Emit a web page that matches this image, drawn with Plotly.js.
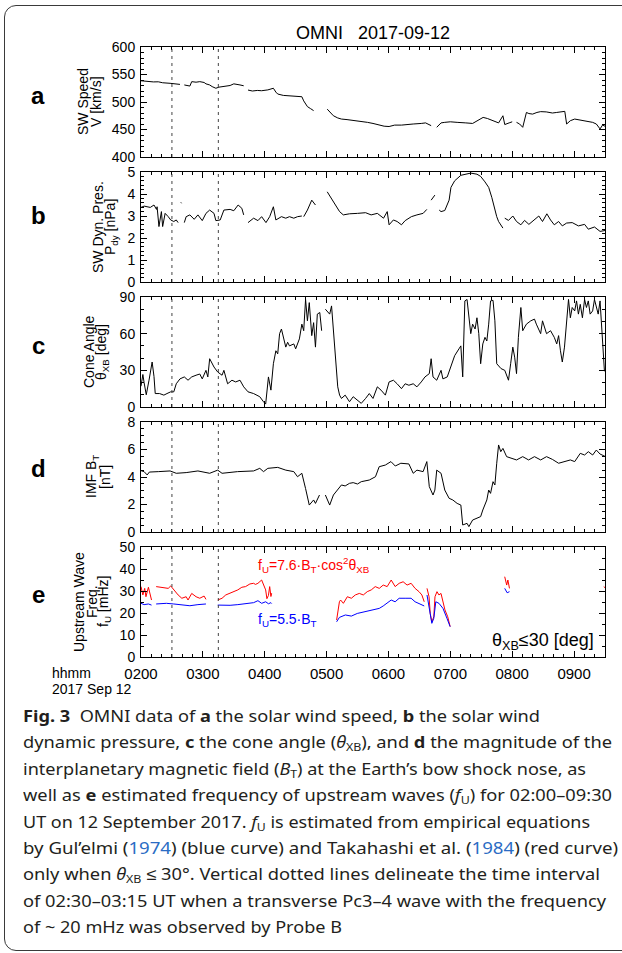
<!DOCTYPE html>
<html><head><meta charset="utf-8">
<script src="https://cdn.plot.ly/plotly-3.0.1.min.js"></script>
<style>
html,body{margin:0;padding:0;background:#fff;}
#wrap{position:relative;width:622px;height:953px;overflow:hidden;background:#fff;}
#frame{position:absolute;left:4px;top:5px;width:660px;height:946px;border:1.5px solid #3a3a3a;border-radius:12px;box-sizing:border-box;}
#chart{position:absolute;left:0;top:0;width:622px;height:700px;}
#caption{position:absolute;left:23px;top:703px;font-family:'Noto Sans',sans-serif;font-size:16.5px;line-height:26.4px;color:#231f20;}
#caption .ln{white-space:nowrap;transform-origin:0 50%;display:block;width:max-content;}
#caption sub{font-size:0.68em;vertical-align:-0.3em;line-height:0;}
#caption .ref{color:#2b6cc4;}
</style></head>
<body>
<div id="wrap">
<div id="frame"></div>
<div id="chart"></div>
<div id="caption">
<div class="ln"><b>Fig. 3</b>&nbsp; OMNI data of <b>a</b> the solar wind speed, <b>b</b> the solar wind</div>
<div class="ln">dynamic pressure, <b>c</b> the cone angle (<i>θ</i><sub>XB</sub>), and <b>d</b> the magnitude of the</div>
<div class="ln">interplanetary magnetic field (<i>B</i><sub>T</sub>) at the Earth’s bow shock nose, as</div>
<div class="ln">well as <b>e</b> estimated frequency of upstream waves (<i>f</i><sub>U</sub>) for 02:00–09:30</div>
<div class="ln">UT on 12 September 2017. <i>f</i><sub>U</sub> is estimated from empirical equations</div>
<div class="ln">by Gul’elmi (<span class="ref">1974</span>) (blue curve) and Takahashi et al. (<span class="ref">1984</span>) (red curve)</div>
<div class="ln">only when <i>θ</i><sub>XB</sub> ≤ 30°. Vertical dotted lines delineate the time interval</div>
<div class="ln">of 02:30–03:15 UT when a transverse Pc3–4 wave with the frequency</div>
<div class="ln">of ~ 20 mHz was observed by Probe B</div>
</div>
</div>
<script>
// ---- data (time in decimal hours UT, 2017-09-12) ----
const markTimes = [2.5, 3.25];
const tickHours = [2,3,4,5,6,7,8,9];

const tA = [2.00,2.05,2.13,2.20,2.28,2.35,2.47,2.60,2.63,2.66,
2.70,2.76,2.79,2.82,2.89,2.95,3.02,3.05,3.11,3.15,
3.21,3.26,3.31,3.37,3.44,3.50,3.57,3.60,3.66,3.69,
3.73,3.80,3.88,3.95,4.05,4.14,4.18,4.21,4.30,4.40,
4.50,4.60,4.63,4.69,4.74,4.79,4.90,5.01,5.06,5.11,
5.18,5.24,5.33,5.40,5.50,5.58,5.66,5.75,5.85,5.93,
6.01,6.10,6.21,6.27,6.40,6.53,6.60,6.69,6.74,6.78,
6.82,6.85,6.91,7.00,7.11,7.17,7.25,7.36,7.45,7.53,
7.60,7.69,7.78,7.85,7.88,7.95,8.00,8.03,8.07,8.12,
8.17,8.23,8.27,8.33,8.40,8.46,8.55,8.65,8.72,8.80,
8.85,8.88,8.94,9.01,9.10,9.23,9.30,9.36,9.42,9.46,
9.50];
const speedV = [538.6,538,537.5,536.5,536.7,535,534,532.5,532,null,
531,530,529,537,536,537,535.5,533,531,528,
525,527,528,529,530,533,532.5,531,529.5,null,
521.7,520,521,520.5,522,525,518,514.5,512,511.4,
510,509.6,502,491.6,488,484.3,null,487,481,475,
471,469,468,467,466,464,463,461,458,456,
455.4,458,458,459,460,461,462,457,null,454,
458,462,463,464,463,463,462,461,467,472,
470,466,462,475,459,462,464,null,463,460,
454,481,479,478,481,482.5,482,480,481,482,
483,460,466,469,467,465,463,460,451,458,
456];

const tB = [2.00,2.05,2.15,2.21,2.25,2.26,2.29,2.33,2.35,2.39,
2.44,2.48,2.53,2.57,2.60,2.62,2.645,2.655,2.67,2.70,
2.73,2.79,2.86,2.92,2.99,3.05,3.11,3.18,3.21,3.28,
3.34,3.44,3.50,3.57,3.63,3.66,3.69,3.73,3.82,3.89,
3.95,4.02,4.08,4.14,4.18,4.27,4.34,4.40,4.47,4.53,
4.60,4.61,4.63,4.69,4.76,4.82,4.90,5.01,5.08,5.14,
5.21,5.27,5.37,5.50,5.63,5.72,5.82,5.92,5.98,6.01,
6.08,6.14,6.21,6.27,6.37,6.46,6.56,6.62,6.65,6.69,
6.75,6.78,6.82,6.85,6.91,6.98,7.01,7.07,7.17,7.27,
7.33,7.43,7.49,7.56,7.62,7.67,7.72,7.75,7.78,7.85,
7.86,7.88,7.94,8.01,8.07,8.14,8.20,8.27,8.36,8.43,
8.49,8.56,8.62,8.68,8.75,8.81,8.88,8.97,9.07,9.17,
9.23,9.33,9.42,9.50];
const pressP = [3.39,3.45,3.39,3.5,3.3,3.42,2.52,3.2,2.52,3.12,
2.97,2.82,2.75,2.82,2.7,null,3.62,3.58,null,2.7,
2.97,3.05,2.85,3.05,2.79,3.12,3.27,3.12,2.79,2.82,
3.27,3.3,3.24,3.5,3.35,3.05,null,2.7,2.9,2.79,
2.97,2.7,2.97,3.42,2.82,2.97,2.9,2.97,2.9,2.97,
3.0,null,2.97,3.27,3.72,3.5,null,4.1,3.8,3.5,
3.2,3.05,3.1,3.12,3.15,3.05,3.12,2.9,3.2,2.6,
2.82,2.75,2.6,2.79,2.97,3.05,3.12,3.3,null,3.72,
3.95,null,3.27,3.2,3.25,3.72,4.3,4.6,4.85,4.92,
4.95,4.9,4.8,4.55,4.3,3.85,3.27,2.97,2.75,2.45,
null,2.9,2.8,3.0,2.75,2.6,2.8,2.62,2.85,3.0,
2.75,3.1,2.82,2.6,2.75,2.55,2.68,2.7,2.55,2.62,
2.4,2.5,2.3,2.34];

const tC = [2.00,2.03,2.05,2.085,2.13,2.18,2.21,2.23,2.30,2.37,
2.42,2.48,2.53,2.57,2.63,2.70,2.76,2.82,2.89,2.95,
2.99,3.05,3.08,3.11,3.18,3.24,3.31,3.34,3.40,3.47,
3.53,3.60,3.66,3.73,3.82,3.92,3.98,4.015,4.06,4.10,
4.14,4.18,4.21,4.24,4.27,4.31,4.34,4.37,4.40,4.47,
4.50,4.56,4.60,4.63,4.66,4.69,4.72,4.76,4.79,4.82,
4.85,4.89,4.92,4.95,4.98,5.05,5.08,5.11,5.14,5.18,
5.21,5.24,5.30,5.37,5.43,5.50,5.56,5.63,5.69,5.75,
5.82,5.88,5.95,6.01,6.08,6.14,6.21,6.27,6.33,6.40,
6.46,6.53,6.59,6.66,6.69,6.72,6.78,6.85,6.88,6.95,
7.01,7.07,7.14,7.17,7.20,7.235,7.27,7.30,7.33,7.36,
7.40,7.43,7.46,7.49,7.525,7.56,7.59,7.62,7.65,7.69,
7.72,7.75,7.82,7.88,7.94,7.975,8.01,8.04,8.07,8.10,
8.14,8.17,8.23,8.30,8.36,8.39,8.46,8.49,8.555,8.62,
8.68,8.72,8.75,8.78,8.81,8.845,8.88,8.91,8.94,8.97,
9.01,9.04,9.07,9.10,9.135,9.17,9.20,9.23,9.26,9.30,
9.33,9.36,9.39,9.42,9.46,9.49,9.50];
const coneTheta = [17,26.6,20,10,22,36.8,25,11,11,9.7,
11,12.4,12.4,19,23,24.6,21.9,24.6,26,27,
23,30,24.6,39.5,32.7,28.6,26,30,19,21.9,
20.5,21.9,16.5,12.4,11,8.4,4.3,2.4,24.6,13.8,
35.4,46,43.5,60,63.8,54,49,53,50,51.6,
47.6,55.7,67.8,62.4,88,70.5,85.4,58.4,69,49,
76,77.3,62.4,null,80,76,82.7,62.4,35.4,16.5,
9.7,7,9.7,4.3,8.4,5.7,3,7,11,7,
16.5,13.8,9.7,20.5,21.9,19,15,19,17.8,19,
16.5,20.5,24.6,27.3,39.5,24.6,21.9,30,23,24.6,
32.7,42,47.6,50,24.6,86.8,88,76,60,67.8,
63.8,73,60,35.4,51.6,57,54,67.8,86.8,87.3,
70.5,35.4,31.4,30,21.9,35.4,49,40.8,27.3,57,
81.4,62.4,67.8,70.5,71.9,67.8,60,70.5,60,62.4,
57,51.6,58.4,46,36.8,49,67.8,88,73,81.4,
78.6,86.8,76,84,73,88,81.4,86.8,76,78.6,
88,81.4,76,86.8,49,30,29];

const tD = [2.00,2.05,2.10,2.135,2.28,2.47,2.57,2.73,2.92,3.11,
3.24,3.31,3.56,3.82,3.92,3.98,4.05,4.21,4.34,4.47,
4.53,4.60,4.66,4.72,4.79,4.82,4.885,4.93,4.98,5.05,
5.11,5.175,5.24,5.30,5.37,5.43,5.50,5.56,5.69,5.79,
5.85,5.95,6.04,6.11,6.20,6.33,6.40,6.46,6.56,6.62,
6.66,6.72,6.75,6.78,6.85,6.91,6.98,7.04,7.11,7.17,
7.20,7.27,7.30,7.36,7.43,7.49,7.525,7.59,7.62,7.65,
7.69,7.72,7.75,7.78,7.815,7.85,7.91,7.975,8.07,8.17,
8.265,8.36,8.46,8.555,8.65,8.75,8.845,8.94,9.01,9.10,
9.17,9.23,9.30,9.36,9.42,9.49,9.50];
const imfBT = [4.46,4.39,4.15,4.36,4.39,4.44,4.27,4.32,4.44,4.27,
4.5,4.27,4.39,4.44,4.63,4.39,4.63,4.7,4.5,4.39,
4.02,4.27,3.16,1.96,2.33,2.08,2.69,null,2.69,1.96,
2.69,3.05,3.42,3.35,3.54,3.59,3.49,3.66,3.78,4.02,
4.75,4.87,5.12,4.8,5.0,4.95,4.27,4.5,4.39,5.12,
3.3,2.69,3.05,4.5,4.27,3.05,2.45,2.33,2.08,1.96,
0.51,0.63,0.39,0.87,0.99,1.12,1.6,2.33,3.05,2.81,
3.66,3.42,5.0,6.33,5.84,6.08,5.48,5.36,5.24,5.48,
5.24,5.48,5.24,5.48,5.28,5.0,5.12,5.24,5.12,5.72,
5.6,5.84,5.6,5.96,5.67,5.53,5.5];

const tRed = [2.00,2.03,2.06,2.08,2.12,2.15,2.17,2.20,2.245,2.34,
2.44,2.48,2.53,2.60,2.66,2.73,2.76,2.82,2.89,2.95,
3.02,3.05,3.15,3.24,3.31,3.37,3.44,3.50,3.565,3.63,
3.69,3.76,3.82,3.85,3.89,3.95,3.98,4.015,4.035,4.06,
4.08,4.10,4.112,4.5,5.162,5.207,5.226,5.271,5.335,5.40,
5.464,5.529,5.593,5.657,5.722,5.786,5.851,5.915,5.979,6.044,
6.108,6.173,6.237,6.301,6.366,6.43,6.494,6.54,6.578,6.60,
6.623,6.656,6.675,6.701,6.733,6.752,6.784,6.816,6.849,6.881,
6.913,6.958,6.997,7.4,7.879,7.911,7.93,7.956,8.5,9.48,
9.50];
const freqTakahashi = [32,28.2,31.2,27.4,31.7,28.9,25.9,null,32,31.7,
31.2,32.3,30.5,28.2,26.7,27.4,25.9,28.9,27.4,26.7,
27.7,26.2,null,25.9,26.7,28.2,28.9,29.7,30.5,31.7,
32,33.2,33.5,33,33.5,35,32.7,30.5,26.5,28,
32,27.5,29,null,16.8,25.1,25.9,24.4,27.4,26.7,
28.2,28.9,28.2,29.7,30.5,32,31.2,32.7,32,35,
32,33.5,34.2,32.7,33.5,31.2,29.7,28.2,25.1,null,
31.2,27.4,19.8,16,18.3,27.4,29.7,28.2,28.9,25.1,
21.4,18.3,13.8,null,36.5,32.7,35,31.2,null,32,
31.5];

const tBlue = [2.00,2.05,2.12,2.17,2.20,2.245,2.41,2.53,2.66,2.79,
2.92,3.05,3.15,3.24,3.44,3.565,3.69,3.82,3.89,3.95,
4.015,4.06,4.10,4.112,4.5,5.162,5.207,5.303,5.40,5.496,
5.625,5.754,5.851,5.915,5.979,6.044,6.108,6.173,6.269,6.366,
6.43,6.494,6.54,6.578,6.60,6.623,6.656,6.701,6.733,6.765,
6.816,6.881,6.945,6.997,7.4,7.879,7.918,7.956];
const freqGulelmi = [24.4,23.8,24.1,23.6,null,24.1,24.4,24.1,23.6,23.3,
23.8,24.1,null,23.6,23.5,23.8,24.1,24.7,25.6,24.4,
25.1,24.2,24.7,24.3,null,16,18,19.1,18.6,19.8,
20.6,21.4,22.1,23.2,24.4,25.9,25.1,26.7,26.7,26.7,
25.1,24.4,23.6,23.2,null,28.2,22.9,15.3,17.6,25.1,
24.4,22.1,17.6,13.8,null,31.2,29.2,29.7];

// ---- helpers ----
const DAY0 = Date.UTC(2017,8,12);
const ms = h => DAY0 + Math.round(h*3600000);
const FONT = 'Liberation Sans, Arial, Helvetica, sans-serif';
const W = 622, H = 700;
const XL = 141, XR = 605;
const panelPx = [[47,157],[172,282],[297,407],[422,532],[547,657]];
const yLabelShift = [-2.5,-1.5,-0.5,0.5,1.5];
const dom = (t,b) => [1-b/H, 1-t/H];
const sfx = i => i ? String(i+1) : '';

const traces = [
  {x:tA.map(ms), y:speedV, xaxis:'x', yaxis:'y', mode:'lines', line:{color:'#000',width:1}},
  {x:tB.map(ms), y:pressP, xaxis:'x2', yaxis:'y2', mode:'lines', line:{color:'#000',width:1}},
  {x:tC.map(ms), y:coneTheta, xaxis:'x3', yaxis:'y3', mode:'lines', line:{color:'#000',width:1}},
  {x:tD.map(ms), y:imfBT, xaxis:'x4', yaxis:'y4', mode:'lines', line:{color:'#000',width:1}},
  {x:tRed.map(ms), y:freqTakahashi, xaxis:'x5', yaxis:'y5', mode:'lines', line:{color:'#ff0000',width:1}},
  {x:tBlue.map(ms), y:freqGulelmi, xaxis:'x5', yaxis:'y5', mode:'lines', line:{color:'#0000ff',width:1}}
];

const yCfg = [
  {range:[400,600], dtick:50, minor:10},
  {range:[0,5], dtick:1, minor:0.2},
  {range:[0,90], dtick:30, minor:10},
  {range:[0,8], dtick:2, minor:0.5},
  {range:[0,50], dtick:10, minor:5}
];

const layout = {
  width:W, height:H, margin:{l:0,r:0,t:0,b:0},
  paper_bgcolor:'rgba(0,0,0,0)', plot_bgcolor:'rgba(0,0,0,0)',
  showlegend:false, font:{family:FONT, color:'#000', size:15},
  shapes:[], annotations:[]
};
for (let i=0;i<5;i++){
  const s = sfx(i);
  layout['xaxis'+s] = {
    domain:[XL/W, XR/W], anchor:'y'+s, type:'date',
    range:[ms(2), ms(9.5)], tickmode:'array', tickvals:tickHours.map(ms),
    ticktext:tickHours.map(h => (h<10?'0':'')+h+'00'),
    ticks:'inside', ticklen:6, tickwidth:1, tickcolor:'#000',
    minor:{dtick:600000, tick0:ms(2), ticks:'inside', ticklen:3, tickwidth:1, tickcolor:'#000'},
    showline:true, linecolor:'#000', linewidth:1, mirror:'ticks',
    showgrid:false, zeroline:false, showticklabels:i===4,
    tickfont:{family:FONT, size:15, color:'#000'}, ticklabelstandoff:3, fixedrange:true
  };
  const c = yCfg[i];
  layout['yaxis'+s] = {
    domain:dom(panelPx[i][0], panelPx[i][1]), anchor:'x'+s,
    range:c.range, tick0:c.range[0], dtick:c.dtick,
    ticks:'inside', ticklen:6, tickwidth:1, tickcolor:'#000',
    minor:{dtick:c.minor, ticks:'inside', ticklen:3, tickwidth:1, tickcolor:'#000'},
    showline:true, linecolor:'#000', linewidth:1, mirror:'ticks',
    showgrid:false, zeroline:false,
    tickfont:{family:FONT, size:14, color:'#000'}, ticklabelstandoff:2,
    ticklabelshift:yLabelShift[i], fixedrange:true
  };
  markTimes.forEach(h => layout.shapes.push({
    type:'line', xref:'x'+s, yref:'y'+s+' domain', x0:ms(h), x1:ms(h), y0:0, y1:1,
    line:{color:'#444', width:1, dash:'3px,4px'}
  }));
}

const A = layout.annotations;
const px = (x) => x/W, py = (y) => 1-y/H;
function note(text, x, y, o){ A.push(Object.assign({text, xref:'paper', yref:'paper', x:px(x), y:py(y),
  showarrow:false, xanchor:'center', yanchor:'middle', font:{family:FONT,size:14,color:'#000'}}, o||{})); }

note('OMNI\u00a0\u00a0\u00a02017-09-12', 373, 33, {font:{family:FONT,size:18,color:'#000'}});
const letters = ['a','b','c','d','e'];
const letterY = [96,216,346,468,594];
letters.forEach((l,i)=>note('<b>'+l+'</b>', 38, letterY[i], {font:{family:FONT,size:24,color:'#000'}}));

const yTitles = [
  [['SW Speed',83],['V [km/s]',96]],
  [['SW Dyn. Pres.',98],['P<sub>dy</sub> [nPa]',111]],
  [['Cone Angle',89],['θ<sub>XB</sub> [deg]',102]],
  [['IMF B<sub>T</sub>',92],['[nT]',105]],
  [['Upstream Wave',79],['Freq.',92],['f<sub>U</sub> [mHz]',104]]
];
yTitles.forEach((lines,i)=>{
  const yc = (panelPx[i][0]+panelPx[i][1])/2;
  lines.forEach(([t,x])=>note(t, x, yc, {textangle:-90}));
});

note('f<sub>U</sub>=7.6·B<sub>T</sub>·cos<sup>2</sup>θ<sub>XB</sub>', 256, 565, {xanchor:'left', font:{family:FONT,size:14,color:'#ff0000'}});
note('f<sub>U</sub>=5.5·B<sub>T</sub>', 256, 620, {xanchor:'left', font:{family:FONT,size:14,color:'#0000ff'}});
note('θ<sub>XB</sub>≤30 [deg]', 596, 641, {xanchor:'right', font:{family:FONT,size:18,color:'#000'}});
note('hhmm', 50, 673, {xanchor:'left', font:{family:FONT,size:14,color:'#000'}});
note('2017 Sep 12', 50, 689, {xanchor:'left', font:{family:FONT,size:14,color:'#000'}});

Plotly.newPlot('chart', traces, layout, {staticPlot:true, displayModeBar:false});

// caption line fitting
const rightEdges = [540,612,586,612,590,618,600,606,342];
function fit(){
  const lines = document.querySelectorAll('#caption .ln');
  lines.forEach((el,i)=>{
    el.style.transform='none';
    const w = el.getBoundingClientRect().width;
    const target = rightEdges[i]-23;
    if (w>0) el.style.transform = 'scaleX('+(target/w).toFixed(4)+')';
  });
}
fit();
if (document.fonts && document.fonts.ready) document.fonts.ready.then(fit);
</script>
</body></html>
